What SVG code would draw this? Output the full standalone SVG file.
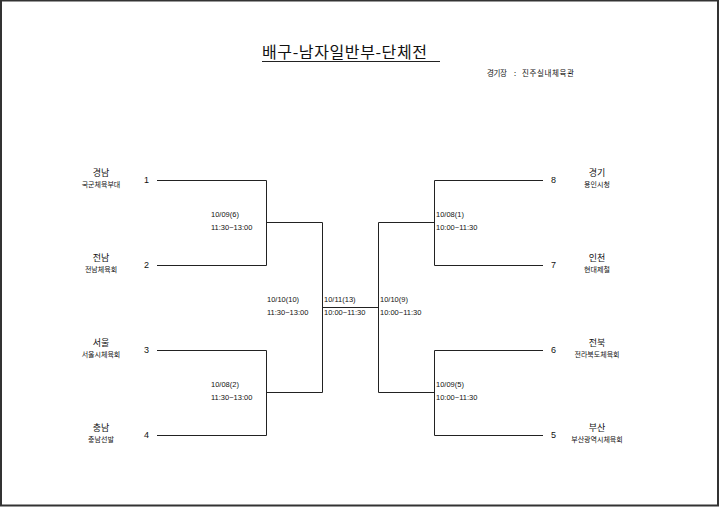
<svg xmlns="http://www.w3.org/2000/svg" width="720" height="507" viewBox="0 0 720 507">
<style>
.t{font-family:"Noto Sans CJK KR","Liberation Sans",sans-serif;fill:#111}
.name{font-size:9px;text-anchor:middle}
.sub{font-size:7px;text-anchor:middle}
.num{font-family:"Liberation Sans",sans-serif;font-size:9px;fill:#111}
.d{font-family:"Liberation Sans",sans-serif;font-size:7.5px;fill:#111}
.ln{stroke:#222;stroke-width:1;fill:none}
</style>
<rect x="0" y="0" width="720" height="507" fill="#fff"/>
<rect x="1" y="0.5" width="717" height="505" fill="none" stroke="#333" stroke-width="2"/>
<g id="title">
<text class="t" x="262" y="58" font-size="16" textLength="165" lengthAdjust="spacing">배구-남자일반부-단체전</text>
<line x1="262" y1="61.5" x2="440" y2="61.5" stroke="#222" stroke-width="1"/>
<text class="t" x="487" y="76" font-size="7.5" textLength="20" lengthAdjust="spacing">경기장</text>
<text class="t" x="514" y="76" font-size="7.5">:</text>
<text class="t" x="522" y="76" font-size="7.5" textLength="52" lengthAdjust="spacing">진주실내체육관</text>
</g>
<g id="connectors" class="ln">
<path d="M157 180.5H266.5V265.5H157M266.5 222.5H322.5"/>
<path d="M157 350.5H266.5V435.5H157M266.5 392.5H322.5"/>
<path d="M322.5 222.5V392.5M322.5 307.5H378.5"/>
<path d="M543 180.5H434.5V265.5H543M434.5 222.5H378.5"/>
<path d="M543 350.5H434.5V435.5H543M434.5 392.5H378.5"/>
<path d="M378.5 222.5V392.5"/>
</g>
<g id="team1"><text class="t name" x="101" y="176">경남</text><text class="t sub" x="101" y="187">국군체육부대</text><text class="num" x="144" y="183">1</text></g>
<g id="team2"><text class="t name" x="101" y="261">전남</text><text class="t sub" x="101" y="272">전남체육회</text><text class="num" x="144" y="268">2</text></g>
<g id="team3"><text class="t name" x="101" y="346">서울</text><text class="t sub" x="101" y="357">서울시체육회</text><text class="num" x="144" y="353">3</text></g>
<g id="team4"><text class="t name" x="101" y="431">충남</text><text class="t sub" x="101" y="442">충남선발</text><text class="num" x="144" y="438">4</text></g>
<g id="team8"><text class="t name" x="597" y="176">경기</text><text class="t sub" x="597" y="187">용인시청</text><text class="num" x="551" y="183">8</text></g>
<g id="team7"><text class="t name" x="597" y="261">인천</text><text class="t sub" x="597" y="272">현대제철</text><text class="num" x="551" y="268">7</text></g>
<g id="team6"><text class="t name" x="597" y="346">전북</text><text class="t sub" x="597" y="357">전라북도체육회</text><text class="num" x="551" y="353">6</text></g>
<g id="team5"><text class="t name" x="597" y="431">부산</text><text class="t sub" x="597" y="442">부산광역시체육회</text><text class="num" x="551" y="438">5</text></g>
<g id="match6"><text class="d" x="211" y="217">10/09(6)</text><text class="d" x="211" y="230">11:30~13:00</text></g>
<g id="match2"><text class="d" x="211" y="387">10/08(2)</text><text class="d" x="211" y="400">11:30~13:00</text></g>
<g id="match1"><text class="d" x="436" y="217">10/08(1)</text><text class="d" x="436" y="230">10:00~11:30</text></g>
<g id="match5"><text class="d" x="436" y="387">10/09(5)</text><text class="d" x="436" y="400">10:00~11:30</text></g>
<g id="match10"><text class="d" x="267" y="302">10/10(10)</text><text class="d" x="267" y="315">11:30~13:00</text></g>
<g id="match13"><text class="d" x="324" y="302">10/11(13)</text><text class="d" x="324" y="315">10:00~11:30</text></g>
<g id="match9"><text class="d" x="380" y="302">10/10(9)</text><text class="d" x="380" y="315">10:00~11:30</text></g>
</svg>
